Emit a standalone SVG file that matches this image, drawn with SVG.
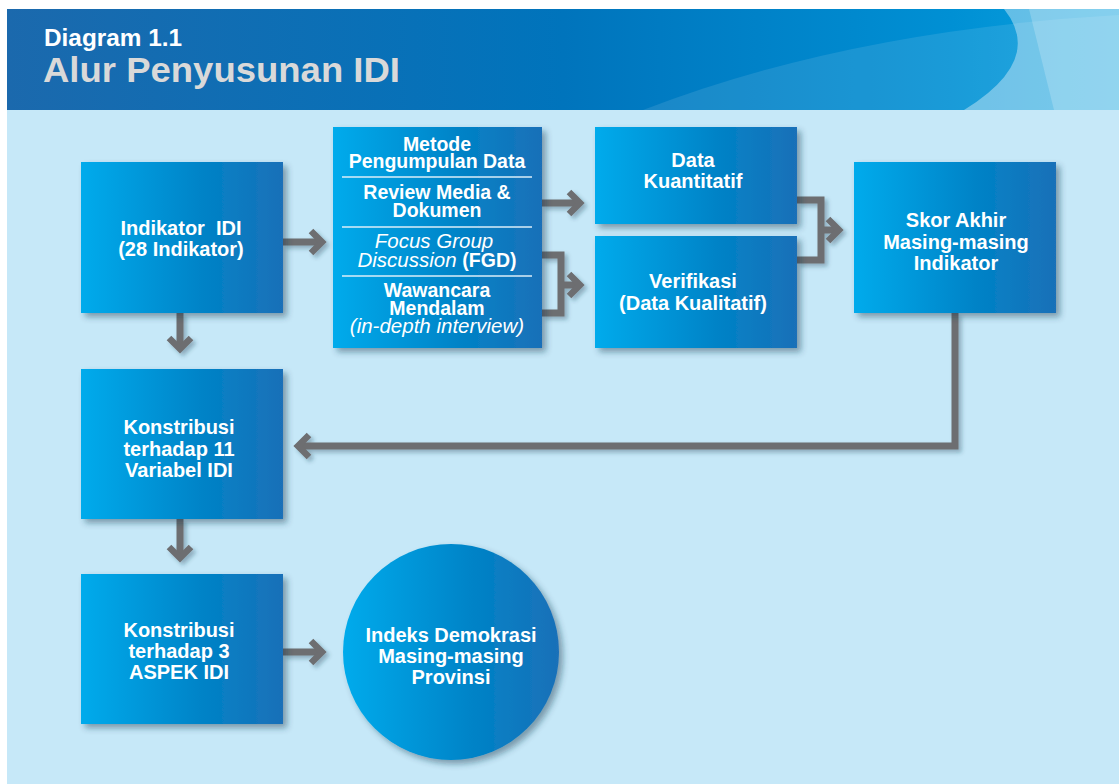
<svg xmlns="http://www.w3.org/2000/svg" width="1119" height="784" viewBox="0 0 1119 784">
<defs>
<linearGradient id="box" x1="0" y1="0" x2="1" y2="0">
<stop offset="0" stop-color="#00abec"/>
<stop offset="0.6" stop-color="#0083c7"/>
<stop offset="1" stop-color="#1a70b8"/>
</linearGradient>
<linearGradient id="hdr" x1="0" y1="0" x2="1" y2="0">
<stop offset="0" stop-color="#1b69ad"/>
<stop offset="0.5" stop-color="#0074bc"/>
<stop offset="0.85" stop-color="#0090d4"/>
<stop offset="1" stop-color="#0aa2de"/>
</linearGradient>
<filter id="sh" x="-10%" y="-10%" width="130%" height="130%">
<feDropShadow dx="4" dy="4" stdDeviation="3" flood-color="#1d3a4d" flood-opacity="0.45"/>
</filter>
<filter id="lsh" x="-10%" y="-10%" width="130%" height="130%">
<feDropShadow dx="3" dy="3" stdDeviation="2" flood-color="#1d3a4d" flood-opacity="0.35"/>
</filter>
<marker id="ah" markerUnits="userSpaceOnUse" markerWidth="30" markerHeight="30" viewBox="0 0 30 30" refX="17" refY="15" orient="auto">
<path d="M6,4 L17,15 L6,26" fill="none" stroke="#6d6e71" stroke-width="6.5" stroke-linejoin="miter"/>
</marker>
</defs>
<style>
.node rect, .node circle { fill: url(#box); filter: url(#sh); }
.t { font-family: "Liberation Sans", Arial, sans-serif; font-weight: bold; font-size: 20px; fill: #ffffff; text-anchor: middle; }
.ti { font-family: "Liberation Sans", Arial, sans-serif; font-style: italic; font-weight: normal; font-size: 20.5px; fill: #ffffff; text-anchor: middle; }
.m { font-size: 19.5px; }
.sep { stroke: #dbeef9; stroke-width: 1.5; }
.conn path { fill: none; stroke: #6d6e71; stroke-width: 7; stroke-linejoin: miter; }
</style>
<rect x="0" y="0" width="1119" height="784" fill="#ffffff"/>
<rect x="7" y="9" width="1112" height="775" fill="#c6e8f8"/>
<g id="header">
<rect x="7" y="9" width="1112" height="101" fill="url(#hdr)"/>
<path d="M643,110 Q850,30 1119,15 L1119,110 Z" fill="#ffffff" fill-opacity="0.1"/>
<path d="M1004,9 Q1045,60 964,110 L1119,110 L1119,9 Z" fill="#ffffff" fill-opacity="0.38"/>
<path d="M1029,9 L1054,110 L1119,110 L1119,9 Z" fill="#ffffff" fill-opacity="0.2"/>
<text x="44" y="46" font-family="'Liberation Sans', Arial, sans-serif" font-weight="bold" font-size="24" fill="#ffffff" textLength="138" lengthAdjust="spacingAndGlyphs">Diagram 1.1</text>
<text x="43" y="82" font-family="'Liberation Sans', Arial, sans-serif" font-weight="bold" font-size="35" fill="#d9d9d9" textLength="357" lengthAdjust="spacingAndGlyphs">Alur Penyusunan IDI</text>
</g>
<g id="connectors" class="conn" filter="url(#lsh)">
<path d="M283,242 H322" marker-end="url(#ah)"/>
<path d="M180,313 V349" marker-end="url(#ah)"/>
<path d="M542,203 H580" marker-end="url(#ah)"/>
<path d="M542,255 H561 V313 H542"/>
<path d="M561,285 H580" marker-end="url(#ah)"/>
<path d="M797,200 H821 V260 H797"/>
<path d="M821,230 H839" marker-end="url(#ah)"/>
<path d="M955,313 V446 H298" marker-end="url(#ah)"/>
<path d="M180,519 V558" marker-end="url(#ah)"/>
<path d="M283,652 H322" marker-end="url(#ah)"/>
</g>
<g id="n-indikator" class="node">
<rect x="81" y="162" width="202" height="151"/>
<text class="t" x="181" y="235" xml:space="preserve">Indikator  IDI</text>
<text class="t" x="181" y="256">(28 Indikator)</text>
</g>
<g id="n-metode" class="node">
<rect x="333" y="127" width="209" height="221"/>
<text class="t m" x="437" y="151">Metode</text>
<text class="t m" x="437" y="168">Pengumpulan Data</text>
<line class="sep" x1="342" y1="177" x2="532" y2="177"/>
<text class="t m" x="437" y="199">Review Media &amp;</text>
<text class="t m" x="437" y="217">Dokumen</text>
<line class="sep" x1="342" y1="227" x2="532" y2="227"/>
<text class="ti" x="434" y="248">Focus Group</text>
<text class="ti" x="437" y="267">Discussion <tspan font-style="normal" font-weight="bold" font-size="19.5">(FGD)</tspan></text>
<line class="sep" x1="342" y1="276" x2="532" y2="276"/>
<text class="t m" x="437" y="297">Wawancara</text>
<text class="t m" x="437" y="315">Mendalam</text>
<text class="ti" x="437" y="333">(in-depth interview)</text>
</g>
<g id="n-kuantitatif" class="node">
<rect x="595" y="127" width="202" height="97"/>
<text class="t" x="693" y="167">Data</text>
<text class="t" x="693" y="188">Kuantitatif</text>
</g>
<g id="n-verifikasi" class="node">
<rect x="595" y="236" width="202" height="112"/>
<text class="t" x="693" y="288">Verifikasi</text>
<text class="t" x="693" y="310">(Data Kualitatif)</text>
</g>
<g id="n-skor" class="node">
<rect x="854" y="162" width="202" height="151"/>
<text class="t" x="956" y="227">Skor Akhir</text>
<text class="t" x="956" y="249">Masing-masing</text>
<text class="t" x="956" y="270">Indikator</text>
</g>
<g id="n-variabel" class="node">
<rect x="81" y="369" width="202" height="150"/>
<text class="t" x="179" y="434">Konstribusi</text>
<text class="t" x="179" y="456">terhadap 11</text>
<text class="t" x="179" y="477">Variabel IDI</text>
</g>
<g id="n-aspek" class="node">
<rect x="81" y="574" width="202" height="150"/>
<text class="t" x="179" y="637">Konstribusi</text>
<text class="t" x="179" y="658">terhadap 3</text>
<text class="t" x="179" y="679">ASPEK IDI</text>
</g>
<g id="n-indeks" class="node">
<circle cx="451" cy="652" r="108"/>
<text class="t" x="451" y="642">Indeks Demokrasi</text>
<text class="t" x="451" y="663">Masing-masing</text>
<text class="t" x="451" y="684">Provinsi</text>
</g>
</svg>
